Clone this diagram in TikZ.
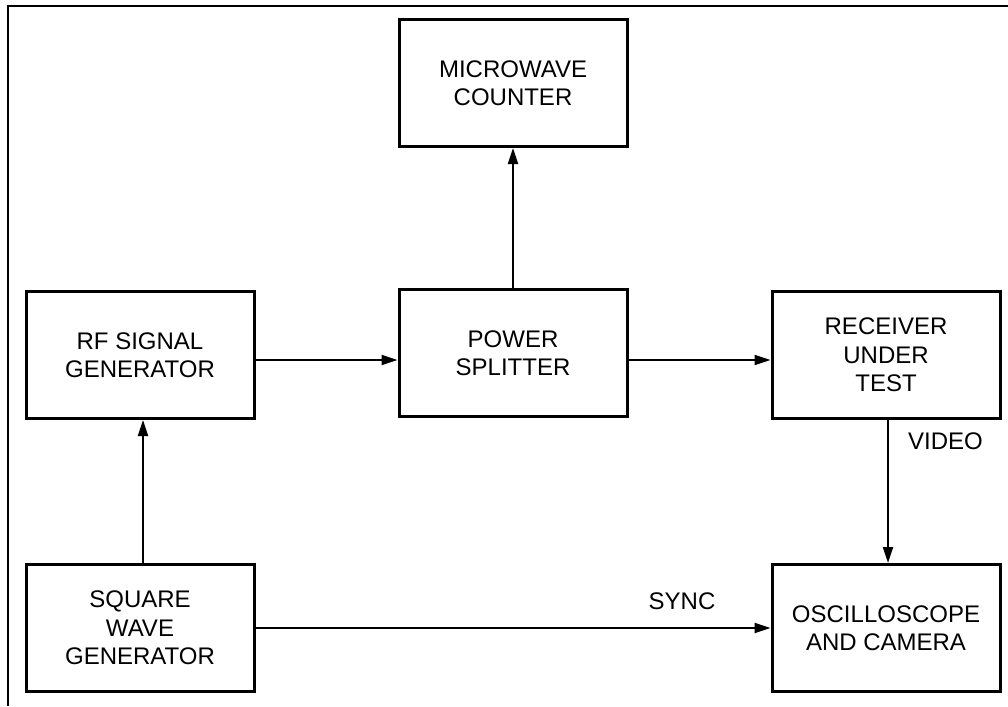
\documentclass[tikz,border=0pt]{standalone}
\usepackage{fontspec}
\setmainfont{Liberation Sans}
\usepackage{tikz}
\usetikzlibrary{arrows.meta,positioning}

\begin{document}
\begin{tikzpicture}[x=1pt, y=-1pt,
  blockbox/.style={draw=black, line width=3pt, minimum width=228pt, minimum height=127pt,
    align=center, inner sep=4pt, font=\fontsize{24}{28.5}\selectfont},
  sigarrow/.style={draw=black, line width=2.2pt, -{Triangle[length=16pt, width=10pt]}},
  siglabel/.style={font=\fontsize{24}{28.5}\selectfont, inner sep=0pt}]

\useasboundingbox (0,0) rectangle (1008,706);

% frame
\draw[line width=2.4pt] (1008,6) -- (8,6) -- (8,706);

\node[blockbox] (counter)  at (513,83)  {MICROWAVE\\COUNTER};
\node[blockbox] (rfgen)    at (140,355) {RF SIGNAL\\GENERATOR};
\node[blockbox] (splitter) at (513,353) {POWER\\SPLITTER};
\node[blockbox] (receiver) at (886,355) {RECEIVER\\UNDER\\TEST};
\node[blockbox] (sqgen)    at (140,628) {SQUARE\\WAVE\\GENERATOR};
\node[blockbox] (scope)    at (886,628) {OSCILLOSCOPE\\AND CAMERA};

\node[siglabel, anchor=west] (video) at (908,441) {VIDEO};
\node[siglabel] (sync) at (682,601) {SYNC};

\draw[sigarrow] ([xshift=3pt]sqgen.north) -- ([xshift=3pt]rfgen.south);
\draw[sigarrow] ([yshift=-5pt]rfgen.east) -- ([yshift=-5pt]splitter.west |- rfgen.east);
\draw[sigarrow] (splitter) -- (counter);
\draw[sigarrow] ([yshift=-5pt]splitter.east |- rfgen.east) -- ([yshift=-5pt]receiver.west);
\draw[sigarrow] ([xshift=2pt]receiver.south) -- ([xshift=2pt]scope.north);
\draw[sigarrow] (sqgen) -- (scope);

\end{tikzpicture}
\end{document}
